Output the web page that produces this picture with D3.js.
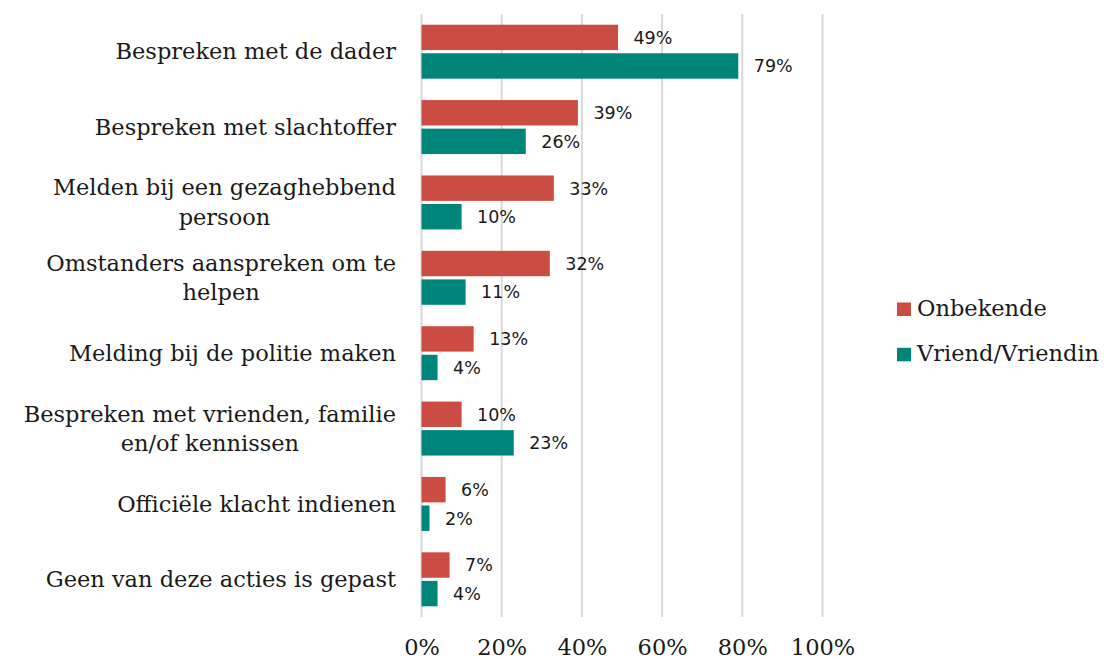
<!DOCTYPE html>
<html>
<head>
<meta charset="utf-8">
<script src="https://cdn.jsdelivr.net/npm/d3@7"></script>
<style>
    body { margin: 0; background: #fff; }
    .cat-label, .tick text, .legend-label { font-family: "DejaVu Serif", serif; font-size: 22.5px; fill: #1a1a1a; }
    .value-label { font-family: "DejaVu Sans", sans-serif; font-size: 17.5px; fill: #1a1a1a; }
</style>
</head>
<body>
<div id="chart"></div>
<script>
// categories (\n = line break in the label)
const categories = [
    "Bespreken met de dader",
    "Bespreken met slachtoffer",
    "Melden bij een gezaghebbend\npersoon",
    "Omstanders aanspreken om te\nhelpen",
    "Melding bij de politie maken",
    "Bespreken met vrienden, familie\nen/of kennissen",
    "Officiële klacht indienen",
    "Geen van deze acties is gepast"
];
const seriesNames = ["Onbekende", "Vriend/Vriendin"];
const onbekende = [49, 39, 33, 32, 13, 10, 6, 7];
const vriend = [79, 26, 10, 11, 4, 23, 2, 4];
const xTicks = [0, 20, 40, 60, 80, 100];
const colors = ["#cb4c43", "#00857a"];

const width = 1113, height = 659;
const plot = {left: 421.5, right: 822.5, top: 14, bottom: 617};

const svg = d3.select("#chart").append("svg")
    .attr("width", width)
    .attr("height", height);

// scales
const x = d3.scaleLinear()
    .domain([0, 100])
    .range([plot.left, plot.right]);

const y0 = d3.scaleBand()
    .domain(categories)
    .range([plot.top, plot.bottom])
    .paddingInner(0.284)
    .paddingOuter(0.142);

const y1 = d3.scaleBand()
    .domain(seriesNames)
    .range([0, y0.bandwidth()])
    .paddingInner(0.11);

// gridlines
svg.append("g")
    .selectAll("line")
    .data(xTicks)
    .join("line")
    .attr("x1", d => x(d))
    .attr("x2", d => x(d))
    .attr("y1", plot.top)
    .attr("y2", plot.bottom)
    .attr("stroke", "#d9d9d9")
    .attr("stroke-width", 2);

// x axis labels
const xAxis = d3.axisBottom(x)
    .tickValues(xTicks)
    .tickSize(0)
    .tickFormat(d => d + "%");

const gx = svg.append("g")
    .attr("transform", "translate(0," + plot.bottom + ")")
    .call(xAxis);
gx.select(".domain").remove();
gx.selectAll(".tick text")
    .attr("y", 38)
    .attr("dy", 0)
    .attr("font-family", null)
    .attr("font-size", null);

// bars
const rows = categories.map((c, i) => ({
    cat: c,
    values: [
        {series: seriesNames[0], value: onbekende[i], color: colors[0]},
        {series: seriesNames[1], value: vriend[i], color: colors[1]}
    ]
}));

const groups = svg.append("g")
    .selectAll("g")
    .data(rows)
    .join("g")
    .attr("transform", d => "translate(0," + y0(d.cat) + ")");

groups.selectAll("rect")
    .data(d => d.values)
    .join("rect")
    .attr("x", x(0))
    .attr("y", d => y1(d.series))
    .attr("width", d => x(d.value) - x(0))
    .attr("height", y1.bandwidth())
    .attr("fill", d => d.color);

groups.selectAll("text")
    .data(d => d.values)
    .join("text")
    .attr("class", "value-label")
    .attr("x", d => x(d.value) + 15.5)
    .attr("y", d => y1(d.series) + y1.bandwidth() / 2 + 6.4)
    .text(d => d.value + "%");

// category labels: block right-aligned, lines centred inside the block
const lineH = 29.5;
const labelRight = 396;
svg.append("g")
    .selectAll("text")
    .data(categories)
    .join("text")
    .attr("class", "cat-label")
    .each(function(d) {
        const lines = d.split("\n");
        const cy = y0(d) + y0.bandwidth() / 2;
        const start = cy - (lines.length - 1) * lineH / 2 + 7.8;
        const t = d3.select(this);
        const spans = t.selectAll("tspan")
            .data(lines)
            .join("tspan")
            .attr("y", (l, i) => start + i * lineH)
            .text(l => l);
        let maxW = 0;
        spans.each(function() { maxW = Math.max(maxW, this.getComputedTextLength()); });
        t.attr("text-anchor", "middle");
        spans.attr("x", labelRight - maxW / 2);
    });

// legend
const legend = svg.append("g")
    .selectAll("g")
    .data(seriesNames)
    .join("g")
    .attr("transform", (d, i) => "translate(897," + (302.5 + i * 45.3) + ")");

legend.append("rect")
    .attr("width", 14)
    .attr("height", 13.5)
    .attr("fill", (d, i) => colors[i]);

legend.append("text")
    .attr("class", "legend-label")
    .attr("x", 20)
    .attr("y", 13.5)
    .text(d => d);
</script>
</body>
</html>
